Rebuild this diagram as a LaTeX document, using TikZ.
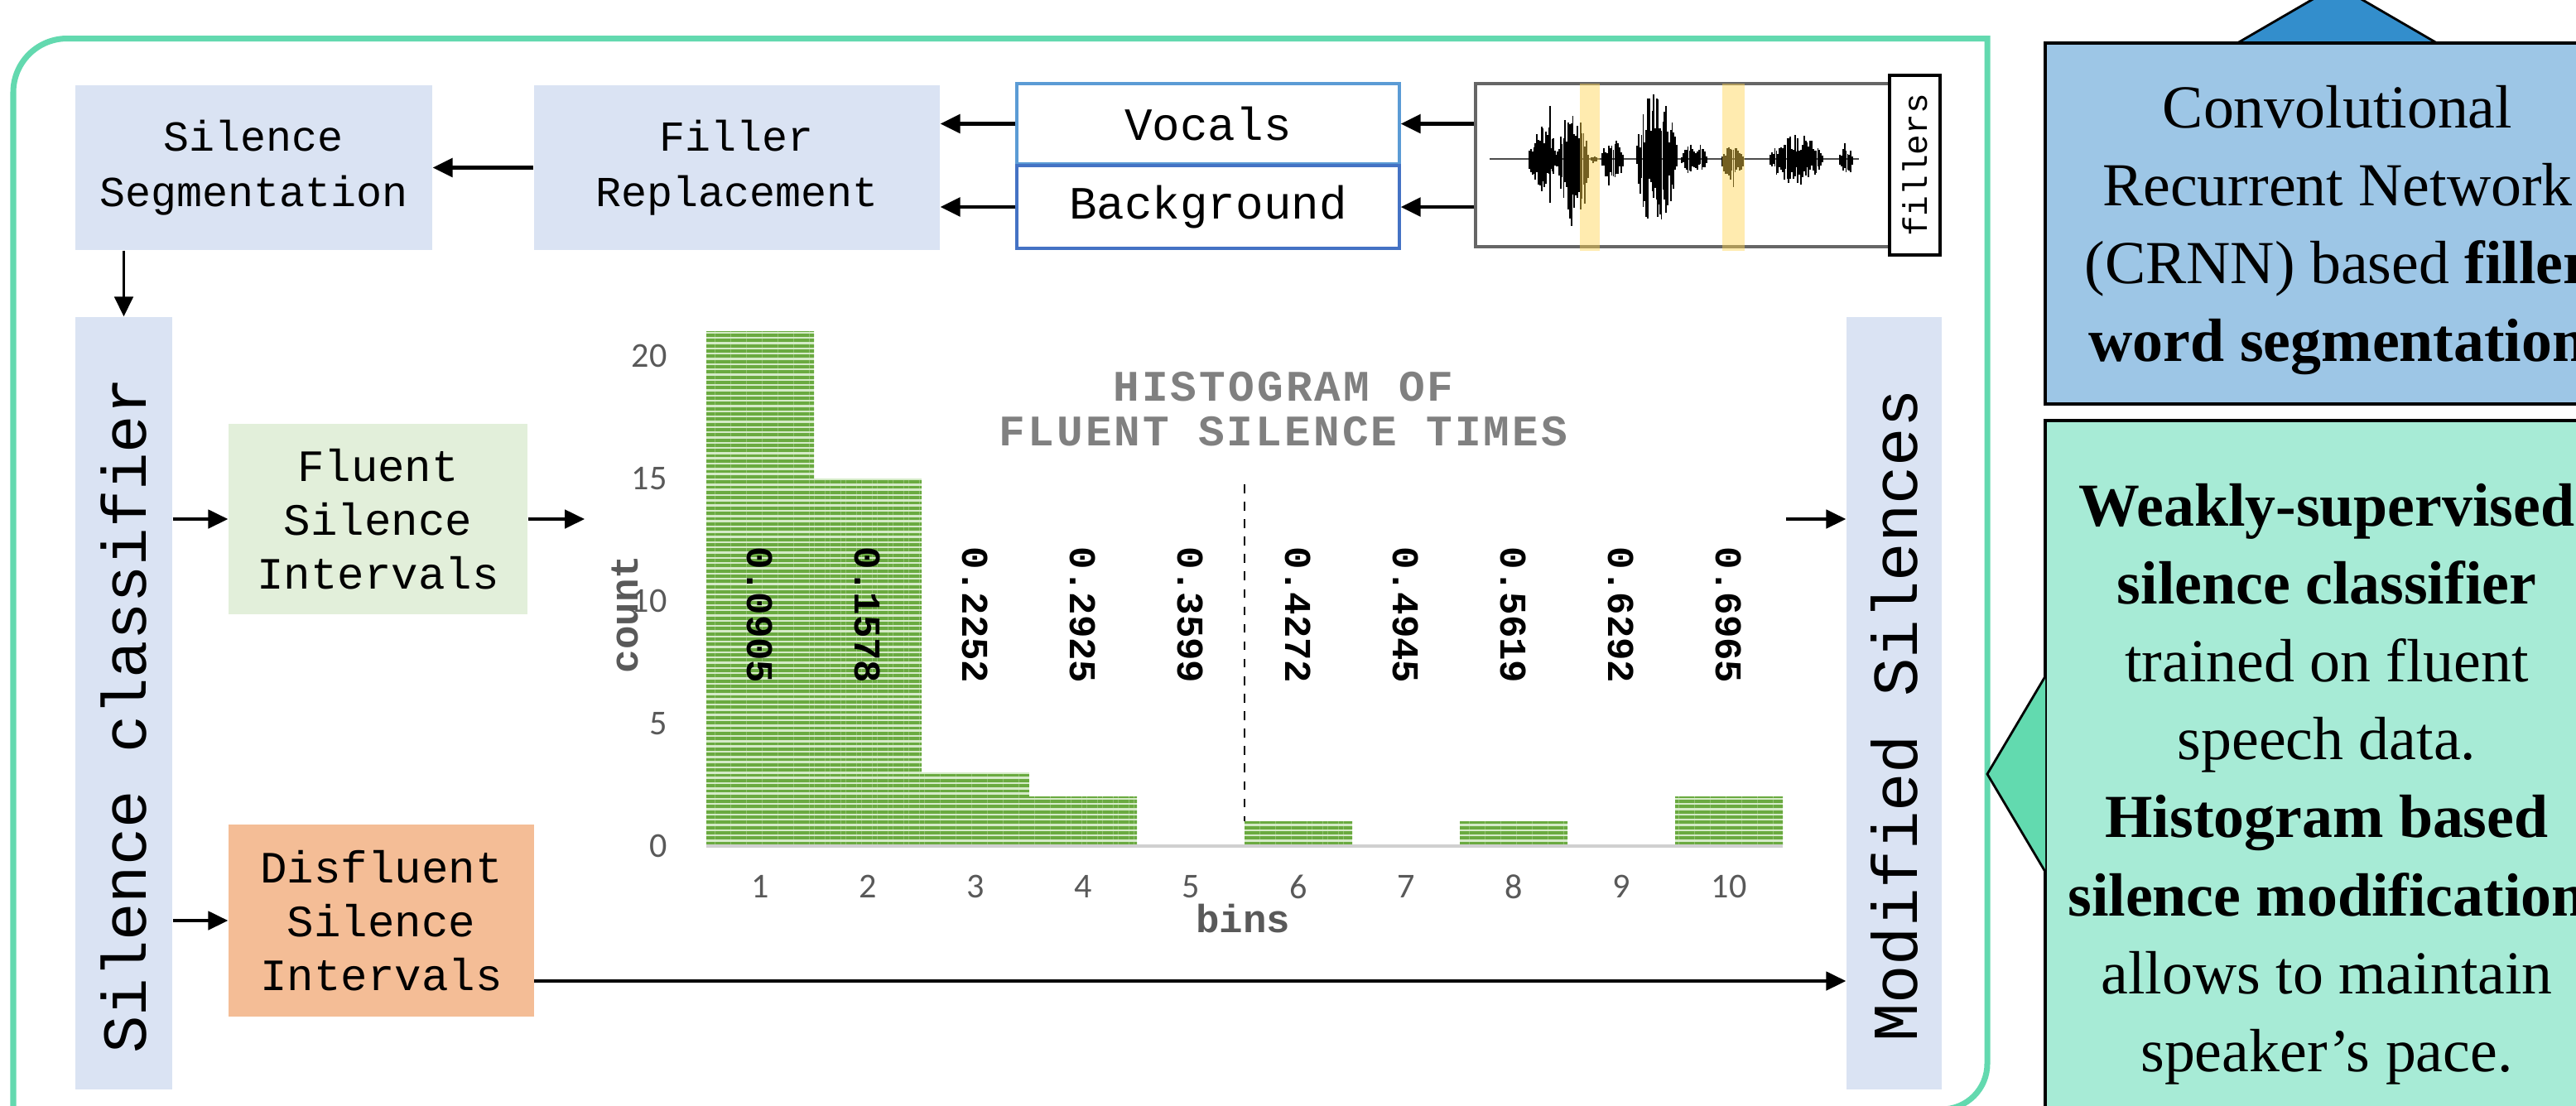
\documentclass[tikz,border=0pt]{standalone}
\usepackage{fontspec}
\setmainfont{Liberation Serif}
\setmonofont{Liberation Mono}
\newfontfamily\tickfont{Carlito}
\newfontfamily\titlefont[LetterSpace=6]{Liberation Mono}
\usetikzlibrary{arrows.meta,patterns.meta}
\definecolor{framec}{HTML}{63D9AF}
\definecolor{boxblue}{HTML}{DAE3F3}
\definecolor{fluentc}{HTML}{E2EFDA}
\definecolor{disflc}{HTML}{F4BD96}
\definecolor{vocc}{HTML}{5B9BD5}
\definecolor{bgc}{HTML}{4472C4}
\definecolor{band}{HTML}{FFD34D}
\definecolor{crnnc}{HTML}{9DC6E6}
\definecolor{crnntri}{HTML}{338ECC}
\definecolor{weakc}{HTML}{A7EBD6}
\definecolor{weaktri}{HTML}{62DAAF}
\definecolor{barg}{HTML}{6AAA40}
\definecolor{barl}{HTML}{D5EBC8}
\definecolor{axisc}{HTML}{D0D0D0}
\definecolor{titlec}{HTML}{808080}
\definecolor{tickc}{HTML}{595959}

\begin{document}
\begin{tikzpicture}[
  blk/.style={fill=boxblue, inner sep=0, align=center},
  topfont/.style={font=\fontsize{14.7}{19}\selectfont\ttfamily},
  midfont/.style={font=\fontsize{15.4}{18.5}\selectfont\ttfamily},
  srcbox/.style={draw, fill=white, line width=1pt, inner sep=0,
    minimum width=4.62cm, font=\fontsize{15.9}{18}\selectfont\ttfamily},
  arr/.style={-{Triangle[length=6.8pt,width=6.4pt]}, line width=0.9pt},
  toparr/.style={arr, line width=1.2pt},
  wavel/.style={black, line width=0.5pt},
  hbar/.style={preaction={fill=barl},
    pattern={Lines[angle=0,distance=1.8pt,line width=1.1pt]},
    pattern color=barg},
  tick/.style={font=\tickfont\fontsize{12}{14}\selectfont, text=tickc},
  axlab/.style={font=\fontsize{13.5}{15}\selectfont\ttfamily\bfseries,
    text=tickc},
  binval/.style={rotate=-90, font=\fontsize{13}{15}\selectfont\ttfamily\bfseries},
  note/.style={align=center, font=\fontsize{21}{26.8}\selectfont},
]
\useasboundingbox (0,0) rectangle (31.11,-13.35);

\def\hx{8.53}     % left edge of the histogram
\def\hw{1.30}     % bin width
\def\hy{-10.22}   % histogram baseline
\def\hu{0.296}    % height of one count
\def\wy{-1.92}    % waveform centre line

% ---- frame
\draw[framec, line width=2pt]
  (0.16,-13.6) -- (0.16,-1.115) arc[start angle=180, end angle=90, radius=0.65]
  -- (24.0,-0.465) -- (24.0,-12.85) arc[start angle=0, end angle=-90, radius=0.55]
  -- (20.0,-13.40);

% ---- top row
\node[blk, topfont, minimum width=4.31cm, minimum height=1.99cm] (segm)
  at (3.065,-2.025) {Silence\\Segmentation};
\node[blk, topfont, minimum width=4.90cm, minimum height=1.99cm] (filler)
  at (8.90,-2.025) {Filler\\Replacement};
\node[srcbox, draw=vocc, minimum height=0.97cm] (vocals) at (14.59,-1.495)
  {Vocals};
\node[srcbox, draw=bgc, minimum height=1.00cm] (backgr) at (14.59,-2.50)
  {Background};
\node[draw=black!60, line width=0.9pt, minimum width=5.0cm,
      minimum height=1.97cm, inner sep=0] (wave) at (20.32,-1.995) {};

% waveform
\pgfmathsetseed{11}
\draw[black!70, line width=0.5pt] (17.99,\wy) -- (22.45,\wy);
\foreach \wa/\wb/\au/\ad in {18.47/18.80/0.45/0.42, 18.81/19.18/0.60/0.95,
  19.22/19.28/0.06/0.06, 19.35/19.60/0.25/0.40, 19.77/20.25/0.85/0.85,
  20.31/20.61/0.20/0.20, 20.80/21.05/0.16/0.36, 21.38/22.01/0.30/0.34,
  22.22/22.37/0.20/0.27}{
  \pgfmathtruncatemacro{\nn}{(\wb-\wa)/0.018}
  \foreach \k in {0,...,\nn}{
    \pgfmathsetmacro{\xx}{\wa+\k*(\wb-\wa)/\nn}
    \pgfmathsetmacro{\ee}{sqrt(sin(180*(\k+0.5)/(\nn+1)))}
    \pgfmathsetmacro{\yu}{\wy+\au*\ee*(0.3+0.7*rnd)}
    \pgfmathsetmacro{\yd}{\wy-\ad*\ee*(0.3+0.7*rnd)}
    \draw[wavel] (\xx,\yu) -- (\xx,\yd);
  }
}
\foreach \xx/\yu/\yd in {18.72/-1.28/-2.45, 20.02/-1.20/-2.62}{
  \draw[wavel] (\xx,\yu) -- (\xx,\yd);
}
\fill[band, opacity=0.45] (19.08,-1.01) rectangle (19.32,-3.03);
\fill[band, opacity=0.45] (20.80,-1.01) rectangle (21.07,-3.03);
\node[draw=black, line width=1.2pt, fill=white, rotate=90,
      minimum width=2.17cm, minimum height=0.61cm, inner sep=0,
      font=\fontsize{11.7}{13}\selectfont\ttfamily] (fillers)
  at (23.125,-1.995) {fillers};

% ---- side columns and silence boxes
\node[blk, minimum width=1.17cm, minimum height=9.33cm] (classif)
  at (1.495,-8.495) {};
\node[rotate=90, font=\fontsize{21.5}{24}\selectfont\ttfamily] (classift)
  at ([yshift=-0.15cm]classif.center) {Silence classifier};
\node[blk, midfont, fill=fluentc, minimum width=3.61cm, minimum height=2.30cm]
  (fluent) at (4.565,-6.27) {Fluent\\Silence\\Intervals};
\node[blk, midfont, fill=disflc, minimum width=3.69cm, minimum height=2.32cm]
  (disfl) at (4.605,-11.12) {Disfluent\\Silence\\Intervals};
\node[blk, minimum width=1.15cm, minimum height=9.33cm] (modif)
  at (22.875,-8.495) {};
\node[rotate=90, font=\fontsize{22}{24}\selectfont\ttfamily] (modift)
  at ([yshift=-0.15cm]modif.center) {Modified Silences};

% ---- connectors
\draw[toparr] (wave.west |- vocals.east) -- (vocals.east);
\draw[toparr] (wave.west |- backgr.east) -- (backgr.east);
\draw[toparr] (vocals.west) -- (vocals.west -| filler.east);
\draw[toparr] (backgr.west) -- (backgr.west -| filler.east);
\draw[toparr] (filler.west) -- (segm.east);
\draw[arr] (segm.south -| classif.north) -- (classif.north);
\draw[arr] (classif.east |- fluent.west) -- (fluent.west);
\draw[arr] (classif.east |- disfl.west) -- (disfl.west);
\coordinate (hin) at (7.06,-6.27);
\coordinate (hout) at (21.57,-6.27);
\coordinate (dout) at (6.45,-11.85);
\draw[arr] (fluent.east) -- (hin);
\draw[arr] (hout) -- (hout -| modif.west);
\draw[arr] (dout) -- (dout -| modif.west);

% ---- histogram
\draw[dashed, line width=0.6pt] ({\hx+5*\hw},-5.85) -- ({\hx+5*\hw},{\hy+\hu});
\foreach \i/\h in {1/21,2/15,3/3,4/2,6/1,8/1,10/2}{
  \path[hbar] ({\hx+(\i-1)*\hw},\hy) rectangle ({\hx+\i*\hw},{\hy+\h*\hu});
}
\draw[axisc, line width=1.4pt] (\hx,\hy) -- ({\hx+10*\hw},\hy);
\foreach \v in {0,5,...,20}{
  \node[tick, anchor=east] (yt\v) at (8.18,{\hy+\v*\hu}) {\v};
}
\foreach \i/\val in {1/0.0905,2/0.1578,3/0.2252,4/0.2925,5/0.3599,
  6/0.4272,7/0.4945,8/0.5619,9/0.6292,10/0.6965}{
  \node[tick] (xt\i) at ({\hx+(\i-0.5)*\hw},-10.71) {\i};
  \node[binval] (bv\i) at ({\hx+(\i-0.5)*\hw},-7.43) {\val};
}
\node[axlab] (bins) at (15.01,-11.10) {bins};
\node[axlab, rotate=90] (count) at (7.55,-7.42) {count};
\node[align=center, text=titlec,
      font=\titlefont\bfseries\fontsize{15}{15.4}\selectfont] (htitle)
  at (15.5,-4.94) {HISTOGRAM OF\\FLUENT SILENCE TIMES};

% ---- side notes
\filldraw[fill=crnntri, draw=black, line width=0.8pt]
  (27.02,-0.52) -- (28.225,0.18) -- (29.43,-0.52);
\draw[fill=crnnc, line width=1pt] (24.70,-0.52) rectangle (31.8,-4.88);
\node[note] (crnn) at (28.23,-2.78)
  {Convolutional\\Recurrent Network\\(CRNN) based \textbf{filler}\\
   \textbf{word segmentation}};

\draw[fill=weakc, line width=1pt] (24.70,-5.08) rectangle (31.8,-13.6);
\fill[weaktri] (24.70,-8.17) -- (24.00,-9.35) -- (24.70,-10.53) -- cycle;
\draw[line width=0.8pt] (24.70,-8.17) -- (24.00,-9.35) -- (24.70,-10.53);
\node[note] (weak) at (28.1,-9.47)
  {\textbf{Weakly-supervised}\\\textbf{silence classifier}\\trained on fluent\\
   speech data.\\\textbf{Histogram based}\\\textbf{silence modification}\\
   allows to maintain\\speaker’s pace.};

\end{tikzpicture}
\end{document}
